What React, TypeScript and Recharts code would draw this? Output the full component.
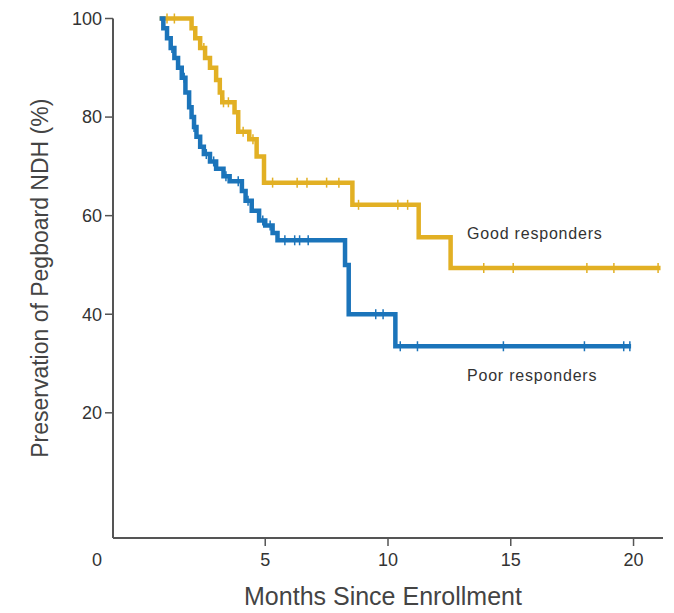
import React from "react";
import {
  ComposedChart,
  Line,
  Scatter,
  XAxis,
  YAxis,
  Customized,
} from "recharts";

// Kaplan-Meier steps (month, % preserved after the event)
const goodTimes = [0.7, 2.0, 2.15, 2.35, 2.55, 2.75, 3.0, 3.15, 3.25, 3.75, 3.9, 4.35, 4.65, 4.95, 8.55, 11.25, 12.55, 21.1];
const goodValues = [100, 98, 96, 94, 92, 90, 87.5, 85, 83, 81, 77, 75.5, 72, 66.7, 62.2, 55.6, 49.4, 49.4];
const goodCensored = [1.0, 1.3, 2.5, 3.3, 3.5, 4.1, 4.5, 5.3, 6.3, 6.7, 7.5, 8.0, 8.8, 10.4, 10.8, 13.9, 15.1, 18.1, 19.2, 21.0];

const poorTimes = [0.7, 0.85, 1.0, 1.15, 1.3, 1.45, 1.6, 1.75, 1.9, 2.0, 2.1, 2.2, 2.35, 2.5, 2.75, 3.0, 3.3, 3.55, 4.05, 4.2, 4.45, 4.75, 5.0, 5.3, 5.5, 8.25, 8.4, 10.3, 19.9];
const poorValues = [100, 98, 96, 94, 92, 90, 88, 85, 82, 80, 78, 76, 74, 72.5, 71, 69.5, 68, 67, 65, 63, 61, 59, 58, 56.5, 55, 50, 40, 33.5, 33.5];
const poorCensored = [1.2, 1.7, 2.1, 2.6, 2.9, 3.4, 3.9, 4.3, 4.9, 5.2, 5.8, 6.2, 6.4, 6.75, 9.5, 9.8, 10.5, 11.2, 14.7, 18.0, 19.6, 19.85];

const yTicks = [20, 40, 60, 80, 100];
const xTicks = [-1.2, 5, 10, 15, 20];

const GOLD = "#E2B024";
const BLUE = "#1B74BA";
const AXIS = "#555";
const FONT = "Liberation Sans, Arial, sans-serif";

function steps(times: number[], values: number[]) {
  return times.map((t, i) => ({ t, v: values[i] }));
}

function survAt(times: number[], values: number[], t: number) {
  let v = values[0];
  for (let i = 0; i < times.length; i++) {
    if (times[i] <= t) v = values[i];
  }
  return v;
}

function censorMarks(censored: number[], times: number[], values: number[]) {
  return censored.map((t) => ({ t, v: survAt(times, values, t) }));
}

const goodData = steps(goodTimes, goodValues);
const poorData = steps(poorTimes, poorValues);
const goodMarks = censorMarks(goodCensored, goodTimes, goodValues);
const poorMarks = censorMarks(poorCensored, poorTimes, poorValues);

const tickMark = (color: string) => (props: any) => {
  const { cx, cy } = props;
  return <line x1={cx} x2={cx} y1={cy - 5} y2={cy + 5} stroke={color} strokeWidth={1.5} />;
};

const XTick = (props: any) => {
  const { x, y, payload } = props;
  if (payload.value < 0) {
    return (
      <text x={x - 16} y={y + 28} textAnchor="middle" fontSize={18} fill="#333" fontFamily={FONT}>
        0
      </text>
    );
  }
  return (
    <g>
      <line x1={x} x2={x} y1={y} y2={y + 8} stroke={AXIS} strokeWidth={1.5} />
      <text x={x} y={y + 28} textAnchor="middle" fontSize={18} fill="#333" fontFamily={FONT}>
        {payload.value}
      </text>
    </g>
  );
};

const Notes = () => (
  <g fontFamily={FONT} fontSize={16} fill="#333" letterSpacing={0.8}>
    <text x={467} y={239}>Good responders</text>
    <text x={467} y={381}>Poor responders</text>
  </g>
);

export default function App() {
  return (
    <div style={{ position: "absolute", left: 0, top: 0, width: 674, height: 613, background: "#fff" }}>
      <ComposedChart
        width={674}
        height={613}
        margin={{ top: 18.5, right: 11, left: 0, bottom: 0 }}
        style={{ fontFamily: FONT }}
      >
        <XAxis
          type="number"
          dataKey="t"
          domain={[-1.2, 21.2]}
          ticks={xTicks}
          tick={<XTick />}
          tickLine={false}
          tickSize={0}
          tickMargin={0}
          height={75}
          axisLine={{ stroke: AXIS, strokeWidth: 2 }}
          label={{
            value: "Months Since Enrollment",
            position: "insideBottom",
            offset: 8,
            dx: -5,
            fontSize: 25,
            fill: "#444",
          }}
        />
        <YAxis
          type="number"
          domain={[-5.4, 100]}
          ticks={yTicks}
          width={113}
          tickSize={8}
          tickMargin={3}
          tick={{ fontSize: 18, fill: "#333" }}
          tickLine={{ stroke: AXIS, strokeWidth: 1.5 }}
          axisLine={{ stroke: AXIS, strokeWidth: 2 }}
          label={{
            value: "Preservation of Pegboard NDH (%)",
            angle: -90,
            position: "insideLeft",
            offset: 40,
            fontSize: 23,
            fill: "#444",
            style: { textAnchor: "middle" },
          }}
        />
        <Line
          data={goodData}
          dataKey="v"
          type="stepAfter"
          stroke={GOLD}
          strokeWidth={4.5}
          dot={false}
          isAnimationActive={false}
        />
        <Line
          data={poorData}
          dataKey="v"
          type="stepAfter"
          stroke={BLUE}
          strokeWidth={4.5}
          dot={false}
          isAnimationActive={false}
        />
        <Scatter data={goodMarks} dataKey="v" shape={tickMark(GOLD)} isAnimationActive={false} />
        <Scatter data={poorMarks} dataKey="v" shape={tickMark(BLUE)} isAnimationActive={false} />
        <Customized component={Notes} />
      </ComposedChart>
    </div>
  );
}
